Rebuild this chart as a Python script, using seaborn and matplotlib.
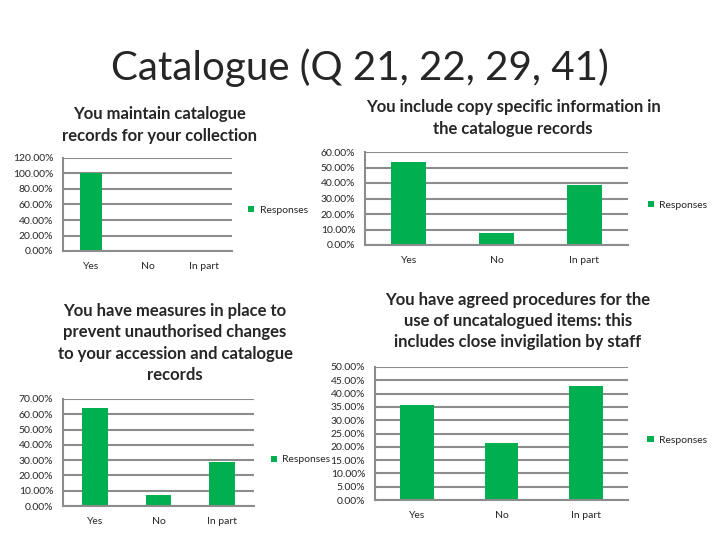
import matplotlib
matplotlib.use("Agg")
import matplotlib.pyplot as plt
import pandas as pd
import seaborn as sns
from matplotlib.ticker import MultipleLocator, PercentFormatter

CATEGORIES = ["Yes", "No", "In part"]
SERIES = "Responses"

maintain_vals = [1.0, 0.0, 0.0]
copy_specific_vals = [7 / 13, 1 / 13, 5 / 13]
measures_vals = [9 / 14, 1 / 14, 4 / 14]
procedures_vals = [5 / 14, 3 / 14, 6 / 14]

TITLES = [
    "You maintain catalogue\nrecords for your collection",
    "You include copy specific information in\nthe catalogue records",
    "You have measures in place to\nprevent unauthorised changes\nto your accession and catalogue\nrecords",
    "You have agreed procedures for the\nuse of uncatalogued items: this\nincludes close invigilation by staff",
]

GREEN = "#00B050"
GRID = "#8C8C8C"
W, H = 720, 540


def px_box(x0, y0, x1, y1):
    return [x0 / W, 1 - y1 / H, (x1 - x0) / W, (y1 - y0) / H]


def draw_chart(fig, box, values, ymax, step, legend_y):
    ax = fig.add_axes(box)
    df = pd.DataFrame({"Answer": CATEGORIES, "Share": values, "Series": SERIES})
    sns.barplot(
        data=df, x="Answer", y="Share", hue="Series", palette=[GREEN],
        width=0.4, dodge=False, ax=ax, saturation=1, linewidth=0,
    )
    ax.set_ylim(0, ymax)
    ax.set_xlim(-0.5, 2.5)
    ax.yaxis.set_major_locator(MultipleLocator(step))
    ax.yaxis.set_major_formatter(PercentFormatter(xmax=1, decimals=2))
    ax.grid(axis="y", color=GRID, linewidth=1.5)
    ax.set_axisbelow(True)
    ax.set_xlabel("")
    ax.set_ylabel("")
    for side in ["top", "right"]:
        ax.spines[side].set_visible(False)
    for side in ["left", "bottom"]:
        ax.spines[side].set_color(GRID)
        ax.spines[side].set_linewidth(1.5)
    ax.set_xticks([-0.5, 0.5, 1.5, 2.5], minor=True)
    ax.tick_params(axis="x", which="major", length=0, labelsize=7.5, pad=8)
    ax.tick_params(axis="x", which="minor", length=3, color=GRID, width=1.2)
    ax.tick_params(axis="y", length=3, color=GRID, width=1.2, labelsize=7.5, pad=4)
    ax.legend(
        loc="center left", bbox_to_anchor=(1.04, legend_y), frameon=False,
        fontsize=7.5, handlelength=0.6, handleheight=0.6, handletextpad=0.5,
    )
    return ax


def main() -> None:
    sns.set_style("white")
    plt.rcParams["font.family"] = ["Lato", "DejaVu Sans"]

    fig = plt.figure(figsize=(7.2, 5.4), dpi=100)

    fig.text(0.5, 1 - 68 / H, "Catalogue (Q 21, 22, 29, 41)", ha="center",
             va="center", fontsize=29)

    draw_chart(fig, px_box(63, 158, 232, 251), maintain_vals, 1.2, 0.2, 0.44)
    draw_chart(fig, px_box(365, 152, 628, 245), copy_specific_vals, 0.6, 0.1, 0.43)
    draw_chart(fig, px_box(63, 399, 254, 506), measures_vals, 0.7, 0.1, 0.43)
    draw_chart(fig, px_box(375, 367, 628, 500), procedures_vals, 0.5, 0.05, 0.45)

    title_pos = [(160, 125), (513, 118), (175, 343), (518, 321)]
    for (tx, ty), title in zip(title_pos, TITLES):
        fig.text(tx / W, 1 - ty / H, title, ha="center", va="center",
                 fontsize=12, fontweight="bold", linespacing=1.4)

    fig.savefig("out.png", dpi=100)
    plt.close(fig)


if __name__ == "__main__":
    main()
